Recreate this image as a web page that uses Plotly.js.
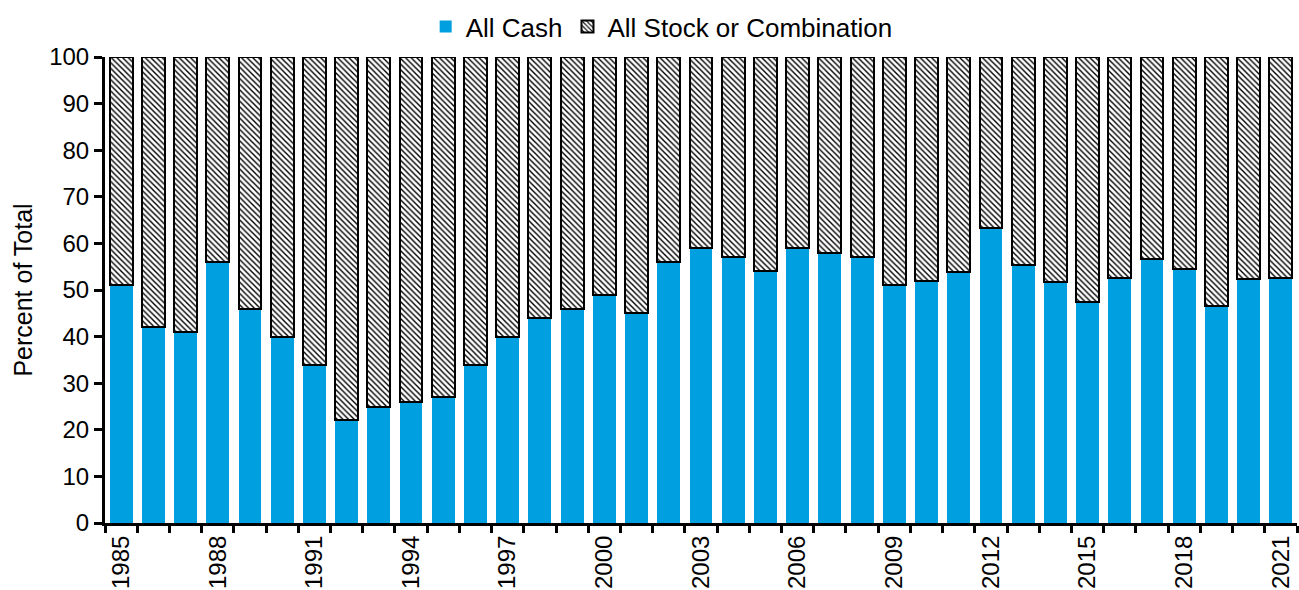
<!DOCTYPE html>
<html>
<head>
<meta charset="utf-8">
<script src="https://cdn.plot.ly/plotly-3.0.1.min.js"></script>
<style>html,body{margin:0;padding:0;background:#fff;}#chart{width:1299px;height:590px;}</style>
</head>
<body>
<div id="chart"></div>
<script>
const years = [1985,1986,1987,1988,1989,1990,1991,1992,1993,1994,1995,1996,1997,1998,1999,2000,2001,2002,2003,2004,2005,2006,2007,2008,2009,2010,2011,2012,2013,2014,2015,2016,2017,2018,2019,2020,2021];
const allCash = [51,42,41,56,46,40,34,22,25,26,27,34,40,44,46,49,45,56,59,57,54,59,58,57,51,52,53.8,63.2,55.3,51.8,47.5,52.6,56.6,54.5,46.6,52.4,52.6];
const allStock = allCash.map(v => 100 - v);
const tickYears = [1985,1988,1991,1994,1997,2000,2003,2006,2009,2012,2015,2018,2021];
const font = "Liberation Sans, Arial, sans-serif";

const traces = [
  {type:'bar', name:'All Cash', x:years, y:allCash,
   marker:{color:'#009FE0', line:{width:0}}},
  {type:'bar', name:'All Stock or Combination', x:years, y:allStock,
   marker:{color:'#ffffff', line:{color:'#000', width:2},
     pattern:{shape:'\\', fgcolor:'#000', bgcolor:'#fff', size:4, solidity:0.35}}}
];
const layout = {
  width:1299, height:590, barmode:'stack', bargap:0.29,
  paper_bgcolor:'#fff', plot_bgcolor:'#fff',
  margin:{l:105, r:2, t:57, b:67, autoexpand:false},
  font:{family:font, size:24, color:'#000'},
  showlegend:true,
  legend:{orientation:'h', traceorder:'normal', x:0.467, xanchor:'center',
    yref:'container', y:0.955, yanchor:'middle',
    font:{size:26}, itemwidth:30, tracegroupgap:0},
  xaxis:{range:[1984.5,2021.5], tickmode:'array', tickvals:tickYears, ticktext:tickYears.map(String),
    tickangle:-90, ticks:'', showgrid:false, zeroline:false, showline:true, linecolor:'#000', linewidth:3,
    tickfont:{size:24},
    minor:{ticks:'outside', ticklen:7, tickwidth:3, tickcolor:'#000', dtick:1, tick0:0.5, showgrid:false}},
  yaxis:{range:[0,100], dtick:10, ticks:'outside', ticklen:8, tickwidth:3, tickcolor:'#000',
    showgrid:false, zeroline:false, showline:true, linecolor:'#000', linewidth:3,
    tickfont:{size:24},
    title:{text:'Percent of Total', font:{size:25}, standoff:10}}
};
Plotly.newPlot('chart', traces, layout, {displayModeBar:false, staticPlot:true});
</script>
</body>
</html>
